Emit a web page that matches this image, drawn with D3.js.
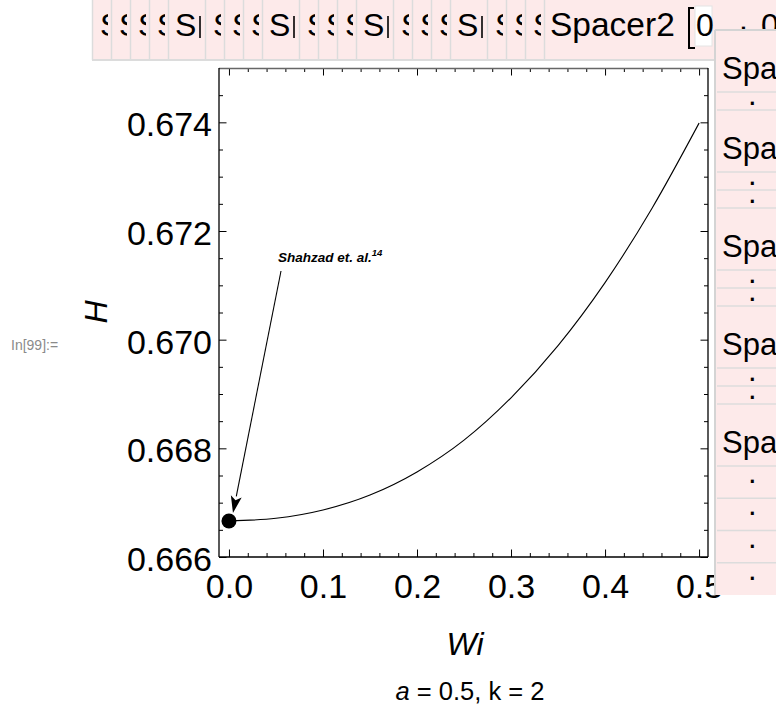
<!DOCTYPE html>
<html><head><meta charset="utf-8">
<script src="https://cdn.jsdelivr.net/npm/d3@7"></script>
<style>
body{margin:0;background:#fff;}
svg{display:block;font-family:"Liberation Sans",Arial,Helvetica,sans-serif;}
</style>
</head><body>
<svg id="chart" width="776" height="710"></svg>
<script>
// ---------------- data ----------------
const wiValues = [0, 0.05, 0.1, 0.15, 0.2, 0.25, 0.3, 0.35, 0.4, 0.45, 0.5];
const hValues  = [0.666662, 0.666712, 0.666865, 0.667140, 0.667565, 0.668150,
                  0.668930, 0.669890, 0.671050, 0.672420, 0.673986];
const refPoint = {wi: 0, h: 0.666662};
const xMajorTicks = [0, 0.1, 0.2, 0.3, 0.4, 0.5];
const xTickLabels = ["0.0", "0.1", "0.2", "0.3", "0.4", "0.5"];
const yMajorTicks = [0.666, 0.668, 0.670, 0.672, 0.674];
const yTickLabels = ["0.666", "0.668", "0.670", "0.672", "0.674"];
const annotationText = "Shahzad et. al.";
const annotationSup = "14";
const xAxisTitle = "Wi";
const yAxisTitle = "H";
const captionItalic = "a";
const captionRest = " = 0.5, k = 2";
const cellLabel = "In[99]:=";
const topCells = ["s","s","s","s","S|","s","s","s","S|","s","s","s","S|","s","s","s","S|","s","s","s","Spacer2"];
const topTail = ["0", ".", "0"];
const sideCells = ["Spa",".","Spa",".",".","Spa",".",".","Spa",".",".","Spa",".",".",".","."];

// ---------------- layout ----------------
const svg = d3.select("#chart");
const frame = {left: 219, top: 68, right: 708, bottom: 557};
const x = d3.scaleLinear().domain([-0.0106, 0.5095]).range([frame.left, frame.right]);
const y = d3.scaleLinear().domain([0.666, 0.675]).range([frame.bottom, frame.top]);
const pink = "#fdeaea";
const cellBorder = "#dcdcdc";
const FS = 34;

// ---------------- top spacer bar ----------------
const topG = svg.append("g");
topG.append("rect").attr("x", 92).attr("y", 0).attr("width", 776 - 92).attr("height", 60).attr("fill", pink);
topG.append("line").attr("x1", 92).attr("x2", 776).attr("y1", 60).attr("y2", 60).attr("stroke", cellBorder).attr("stroke-width", 2);
const cellW = d => d === "s" ? 19 : d === "S|" ? 37 : 143;
let cx = 92;
const defs = svg.append("defs");
topCells.forEach((d, i) => {
  const w = cellW(d);
  topG.append("line").attr("x1", cx + 0.5).attr("x2", cx + 0.5).attr("y1", 0).attr("y2", 60).attr("stroke", cellBorder).attr("stroke-width", 1.5);
  if (d === "s") {
    defs.append("clipPath").attr("id", "clip" + i).append("rect").attr("x", cx + 9).attr("y", 0).attr("width", 7).attr("height", 60);
    topG.append("text").attr("x", cx + 8).attr("y", 36).attr("font-size", 32).attr("clip-path", `url(#clip${i})`).text("S");
  } else if (d === "S|") {
    topG.append("text").attr("x", cx + 7).attr("y", 36).attr("font-size", 32).text("S");
    topG.append("line").attr("x1", cx + 32).attr("x2", cx + 32).attr("y1", 16).attr("y2", 38).attr("stroke", "#000").attr("stroke-width", 1.6);
  } else {
    topG.append("text").attr("x", cx + 6).attr("y", 36).attr("font-size", 33.5).text(d);
  }
  cx += w;
});
// bracket + white cell + trailing pieces
topG.append("path").attr("d", `M${cx + 7},8 L${cx + 2},8 L${cx + 2},48 L${cx + 8},48`).attr("fill", "none").attr("stroke", "#000").attr("stroke-width", 2);
topG.append("rect").attr("x", cx + 8).attr("y", 6).attr("width", 17).attr("height", 40).attr("fill", "#fff").attr("stroke", "#e4e4e4");
topG.append("text").attr("x", cx + 9).attr("y", 36).attr("font-size", 32).text(topTail[0]);
topG.append("text").attr("x", cx + 52).attr("y", 30).attr("font-size", 32).text(topTail[1]);
topG.append("text").attr("x", cx + 74).attr("y", 36).attr("font-size", 32).text(topTail[2]);

// ---------------- plot frame & axes ----------------
const plotG = svg.append("g");
plotG.append("rect").attr("x", frame.left).attr("y", frame.top).attr("width", frame.right - frame.left)
  .attr("height", frame.bottom - frame.top).attr("fill", "#fff");

const xMinor = d3.range(0, 0.5001, 0.02).filter(v => !xMajorTicks.some(m => Math.abs(m - v) < 1e-9));
const yMinor = d3.range(0.6665, 0.67501, 0.0005).filter(v => !yMajorTicks.some(m => Math.abs(m - v) < 1e-9));

function styleAxis(g) {
  g.select(".domain").remove();
  g.selectAll(".tick line").attr("stroke", "#000").attr("stroke-width", 1);
}
// bottom
plotG.append("g").attr("transform", `translate(0,${frame.bottom})`)
  .call(d3.axisBottom(x).tickValues(xMinor).tickSize(-4).tickFormat(""))
  .call(styleAxis);
plotG.append("g").attr("transform", `translate(0,${frame.bottom})`)
  .call(d3.axisBottom(x).tickValues(xMajorTicks).tickSize(-7.5).tickPadding(17)
        .tickFormat((d, i) => xTickLabels[i]))
  .call(styleAxis)
  .call(g => g.selectAll("text").attr("font-size", FS).attr("fill", "#000")
       .attr("font-family", "Liberation Sans, Arial, sans-serif"));
// top
plotG.append("g").attr("transform", `translate(0,${frame.top})`)
  .call(d3.axisTop(x).tickValues(xMinor).tickSize(-4).tickFormat("")).call(styleAxis);
plotG.append("g").attr("transform", `translate(0,${frame.top})`)
  .call(d3.axisTop(x).tickValues(xMajorTicks).tickSize(-7.5).tickFormat("")).call(styleAxis);
// left
plotG.append("g").attr("transform", `translate(${frame.left},0)`)
  .call(d3.axisLeft(y).tickValues(yMinor).tickSize(-4).tickFormat("")).call(styleAxis);
plotG.append("g").attr("transform", `translate(${frame.left},0)`)
  .call(d3.axisLeft(y).tickValues(yMajorTicks).tickSize(-7.5).tickPadding(7)
        .tickFormat((d, i) => yTickLabels[i]))
  .call(styleAxis)
  .call(g => g.selectAll("text").attr("font-size", FS).attr("fill", "#000")
       .attr("font-family", "Liberation Sans, Arial, sans-serif").attr("dy", "0.40em"));
// right
plotG.append("g").attr("transform", `translate(${frame.right},0)`)
  .call(d3.axisRight(y).tickValues(yMinor).tickSize(-4).tickFormat("")).call(styleAxis);
plotG.append("g").attr("transform", `translate(${frame.right},0)`)
  .call(d3.axisRight(y).tickValues(yMajorTicks).tickSize(-7.5).tickFormat("")).call(styleAxis);

// frame lines
plotG.append("line").attr("x1", frame.left).attr("x2", frame.right).attr("y1", frame.top + 0.5).attr("y2", frame.top + 0.5).attr("stroke", "#666").attr("stroke-width", 1.5);
plotG.append("line").attr("x1", frame.left).attr("x2", frame.right).attr("y1", frame.bottom).attr("y2", frame.bottom).attr("stroke", "#000").attr("stroke-width", 1.3);
plotG.append("line").attr("x1", frame.left).attr("x2", frame.left).attr("y1", frame.top).attr("y2", frame.bottom).attr("stroke", "#000").attr("stroke-width", 1.3);
plotG.append("line").attr("x1", frame.right).attr("x2", frame.right).attr("y1", frame.top).attr("y2", frame.bottom).attr("stroke", "#000").attr("stroke-width", 1.3);

// curve
const pts = wiValues.map((w, i) => [w, hValues[i]]);
plotG.append("path").datum(pts)
  .attr("d", d3.line().x(d => x(d[0])).y(d => y(d[1])).curve(d3.curveMonotoneX))
  .attr("fill", "none").attr("stroke", "#000").attr("stroke-width", 1.1);

// reference point
const px = x(refPoint.wi), py = y(refPoint.h);
plotG.append("circle").attr("cx", px).attr("cy", py).attr("r", 7.5).attr("fill", "#000");

// annotation arrow
const ax0 = 281, ay0 = 271;
const ax1 = px + 4, ay1 = py - 8;
const ang = Math.atan2(ay1 - ay0, ax1 - ax0);
const headL = 17, headW = 5.5;
const bx = ax1 - headL * Math.cos(ang), by = ay1 - headL * Math.sin(ang);
plotG.append("line").attr("x1", ax0).attr("y1", ay0).attr("x2", bx).attr("y2", by).attr("stroke", "#000").attr("stroke-width", 1.1);
plotG.append("path").attr("d",
  `M${ax1},${ay1} L${bx + headW * Math.sin(ang)},${by - headW * Math.cos(ang)} L${bx + 4*Math.cos(ang)},${by + 4*Math.sin(ang)} L${bx - headW * Math.sin(ang)},${by + headW * Math.cos(ang)} Z`)
  .attr("fill", "#000");
const ann = plotG.append("text").attr("x", 278).attr("y", 262).attr("font-size", 13.5)
  .attr("font-weight", "bold").attr("font-style", "italic");
ann.append("tspan").text(annotationText);
ann.append("tspan").attr("dy", -6).attr("font-size", 9.5).text(annotationSup);

// axis titles
svg.append("text").attr("x", 465).attr("y", 655).attr("text-anchor", "middle")
  .attr("font-size", 32).attr("font-style", "italic").text(xAxisTitle);
svg.append("text").attr("transform", "translate(107,312) rotate(-90)").attr("text-anchor", "middle")
  .attr("font-size", 32).attr("font-style", "italic").text(yAxisTitle);
const cap = svg.append("text").attr("x", 470).attr("y", 700).attr("text-anchor", "middle").attr("font-size", 25.5);
cap.append("tspan").attr("font-style", "italic").text(captionItalic);
cap.append("tspan").text(captionRest);
svg.append("text").attr("x", 11).attr("y", 350).attr("font-size", 14).attr("fill", "#8a8a8a").text(cellLabel);

// ---------------- side overlay column ----------------
const sideG = svg.append("g");
const boxTop = 30, boxBottom = 595, boxLeft = 715;
sideG.append("rect").attr("x", boxLeft).attr("y", boxTop).attr("width", 776 - boxLeft).attr("height", boxBottom - boxTop).attr("fill", pink);
sideG.append("line").attr("x1", boxLeft).attr("x2", boxLeft).attr("y1", boxTop).attr("y2", boxBottom).attr("stroke", "#d4d4d4").attr("stroke-width", 2);
sideG.append("line").attr("x1", boxLeft).attr("x2", 776).attr("y1", boxTop).attr("y2", boxTop).attr("stroke", "#d4d4d4").attr("stroke-width", 2);
const spaH = 62, dotH = 18;
// trailing dot cells share what is left below the last "Spa" cell
const lastSpa = sideCells.lastIndexOf("Spa");
const nTail = sideCells.length - 1 - lastSpa;
const usedAbove = sideCells.slice(0, lastSpa + 1).reduce((s, d) => s + (d === "Spa" ? spaH : dotH), 0);
const tailH = (boxBottom - boxTop - usedAbove) / nTail;
let cy = boxTop;
sideCells.forEach((d, i) => {
  const h = d === "Spa" ? spaH : (i > lastSpa ? tailH : dotH);
  if (i > 0) sideG.append("line").attr("x1", boxLeft + 2).attr("x2", 776).attr("y1", cy).attr("y2", cy).attr("stroke", cellBorder).attr("stroke-width", 1.5);
  if (d === "Spa") {
    sideG.append("text").attr("x", 722).attr("y", cy + 49).attr("font-size", 31).text(d);
  } else {
    sideG.append("text").attr("x", 748).attr("y", cy + (i > lastSpa ? 17 : 13)).attr("font-size", 31).text(d);
  }
  cy += h;
});
</script>
</body></html>
